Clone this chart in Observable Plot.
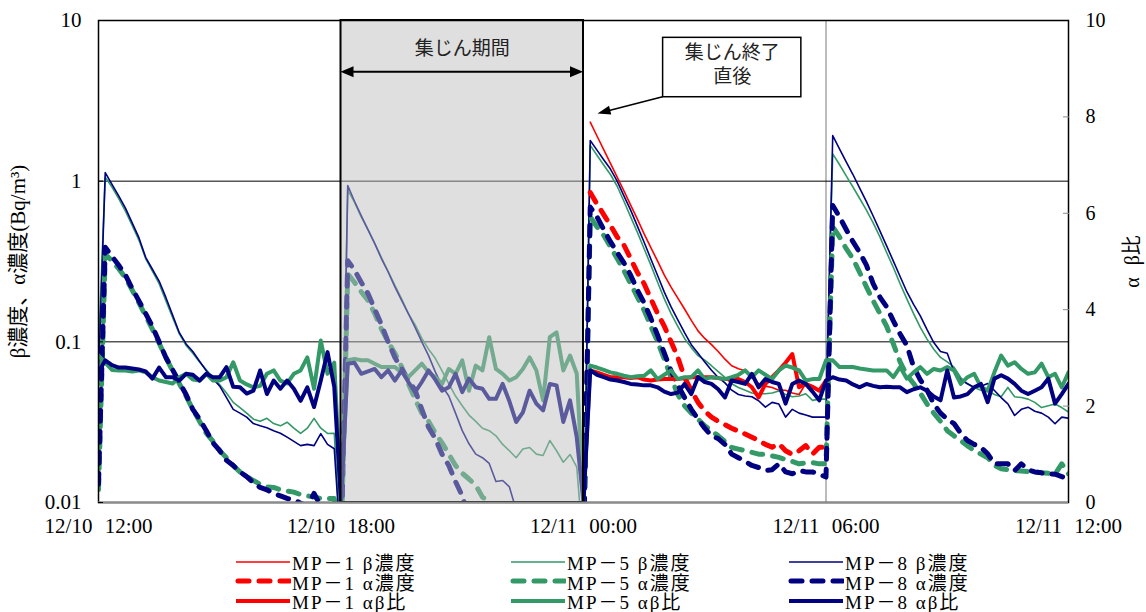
<!DOCTYPE html>
<html><head><meta charset="utf-8">
<script src="https://cdn.jsdelivr.net/npm/d3@7"></script>
<script src="https://cdn.jsdelivr.net/npm/@observablehq/plot@0.6"></script>
<style>
html,body{margin:0;padding:0;background:#fff;}
#chart{width:1146px;height:545px;}
#legend{width:1146px;height:67px;box-sizing:border-box;padding-top:7px;padding-left:235px;display:grid;grid-template-columns:275px 278px 300px;grid-auto-rows:19.5px;font-family:'Liberation Serif','Noto Sans CJK JP',serif;font-size:19px;color:#000;letter-spacing:2px;}
.item{display:flex;align-items:center;white-space:nowrap;}
.item svg{flex:none;margin-right:1px;}
</style></head><body>
<div id="chart"></div><div id="legend"></div>
<script>
// ---- axis / tick data ----
const tickHours = [0, 6, 12, 18, 24];                 // hours after 12/10 12:00
const timeLabels = ["12/10 12:00", "12/10 18:00", "12/11 00:00", "12/11 06:00", "12/11 12:00"];
const stepMinutes = 10;                                // sampling interval
const concTicks = [0.01, 0.1, 1, 10];
const concTickLabels = ["0.01", "0.1", "1", "10"];
const ratioTicks = [0, 2, 4, 6, 8, 10];
const collectPeriod = [6, 12];                         // 集じん期間 18:00–00:00
const mp1StartIndex = 73;                              // MP-1 measured only after 00:00

// ---- series values (10-min samples, 12/10 12:00 – 12/11 12:00) ----
const mp8Beta = [
0.06,1.13,0.955,0.81,0.68,0.55,0.445,0.336,0.283,0.239,0.189,0.147,0.114,0.097,0.087,0.0757,0.066,0.059,0.053,0.045,0.038,0.036,0.034,0.031,0.030,0.0292,0.028,0.027,0.0255,0.024,0.0226,0.023,0.0226,0.0268,0.023,0.0216,
0.005,0.94,0.75,0.61,0.5,0.41,0.33,0.272,0.22,0.181,0.15,0.123,0.1,0.082,0.065,0.053,0.046,0.036,0.028,0.0232,0.02,0.019,0.0175,0.0135,0.0137,0.0125,0.009,null,null,null,null,null,null,null,null,null,
0.005,1.79,1.56,1.36,1.19,1.0,0.81,0.66,0.525,0.417,0.328,0.259,0.204,0.165,0.137,0.114,0.096,0.085,0.075,0.0665,0.060,0.0555,0.050,0.047,0.046,0.0455,0.043,0.0392,0.042,0.041,0.034,0.038,0.036,0.035,0.034,0.034,
0.034,1.92,1.59,1.32,1.1,0.906,0.745,0.607,0.491,0.396,0.318,0.255,0.205,0.171,0.145,0.119,0.099,0.087,0.085,0.0652,0.058,0.0548,0.052,0.053,0.055,0.0498,0.045,0.0411,0.0348,0.038,0.0392,0.037,0.036,0.034,0.0309,0.034,0.0335];
const mp5Beta = [
0.09,1.06,0.92,0.78,0.65,0.53,0.43,0.33,0.275,0.23,0.18,0.142,0.112,0.095,0.085,0.075,0.067,0.06,0.054,0.048,0.042,0.039,0.036,0.033,0.032,0.0334,0.031,0.030,0.0316,0.029,0.0269,0.029,0.0334,0.029,0.0269,0.027,
0.005,0.88,0.74,0.6,0.5,0.41,0.335,0.275,0.225,0.185,0.15,0.128,0.105,0.09,0.079,0.066,0.055,0.046,0.04,0.035,0.032,0.029,0.028,0.026,0.023,0.021,0.019,0.0215,0.022,0.02,0.0196,0.0243,0.021,0.0178,0.0199,0.0166,
0.005,1.67,1.45,1.26,1.1,0.93,0.75,0.6,0.48,0.38,0.3,0.235,0.185,0.15,0.125,0.105,0.092,0.082,0.077,0.071,0.0652,0.06,0.0548,0.052,0.05,0.048,0.0475,0.0475,0.048,0.0495,0.047,0.0455,0.046,0.0475,0.0432,0.044,
0.044,1.48,1.27,1.08,0.92,0.78,0.66,0.55,0.45,0.36,0.29,0.23,0.185,0.15,0.123,0.104,0.09,0.08,0.075,0.0695,0.06,0.0548,0.052,0.05,0.0498,0.047,0.0455,0.052,0.0455,0.045,0.044,0.042,0.039,0.040,0.041,0.039,0.0365];
const mp8Alpha = [
0.013,0.388,0.34,0.30,0.26,0.215,0.18,0.15,0.125,0.1,0.08,0.067,0.056,0.047,0.038,0.033,0.028,0.0235,0.021,0.0183,0.017,0.0155,0.0145,0.0133,0.0124,0.012,0.0114,0.011,0.0106,0.0104,0.0099,0.0095,0.0114,0.0095,0.009,0.0085,
0.005,0.32,0.28,0.235,0.2,0.16,0.128,0.1,0.08,0.068,0.058,0.05,0.038,0.0294,0.025,0.02,0.017,0.0135,0.011,0.008,null,null,null,null,null,null,null,null,null,null,null,null,null,null,null,null,
0.005,0.69,0.6,0.5,0.42,0.36,0.31,0.26,0.21,0.175,0.14,0.11,0.085,0.066,0.054,0.045,0.038,0.033,0.029,0.026,0.025,0.023,0.02,0.019,0.018,0.017,0.0165,0.0158,0.016,0.0174,0.0155,0.0151,0.0158,0.0155,0.0155,0.015,
0.0144,0.706,0.6,0.5,0.42,0.36,0.3,0.23,0.19,0.165,0.135,0.112,0.095,0.07,0.058,0.05,0.041,0.036,0.033,0.031,0.027,0.0243,0.023,0.022,0.0201,0.0174,0.0174,0.0174,0.0158,0.0174,0.016,0.0155,0.0153,0.0151,0.015,0.0145,0.014];
const mp5Alpha = [
0.012,0.35,0.32,0.285,0.25,0.21,0.175,0.145,0.12,0.098,0.08,0.066,0.055,0.046,0.038,0.032,0.027,0.024,0.021,0.019,0.017,0.0155,0.0145,0.0137,0.013,0.0125,0.0124,0.012,0.0118,0.0116,0.0112,0.011,0.0108,0.0106,0.0106,0.0106,
0.005,0.265,0.235,0.205,0.181,0.15,0.12,0.1,0.085,0.07,0.055,0.044,0.036,0.032,0.027,0.0235,0.02,0.017,0.0152,0.014,0.0128,0.0108,0.0102,0.0085,null,null,null,null,null,null,null,null,null,null,null,null,
0.005,0.6,0.52,0.46,0.39,0.33,0.278,0.23,0.19,0.157,0.125,0.1,0.078,0.06,0.047,0.04,0.036,0.033,0.03,0.028,0.026,0.024,0.022,0.0215,0.021,0.0205,0.02,0.0199,0.0195,0.0191,0.0185,0.018,0.0174,0.0176,0.0177,0.0174,
0.0174,0.52,0.45,0.38,0.33,0.27,0.22,0.18,0.15,0.125,0.097,0.075,0.062,0.055,0.048,0.041,0.036,0.032,0.028,0.026,0.0243,0.0225,0.0211,0.02,0.019,0.017,0.0162,0.016,0.0158,0.0157,0.0156,0.0155,0.0153,0.0152,0.015,0.0174,0.0151];
const mp8Ratio = [
2.7,2.95,2.85,2.8,2.8,2.78,2.76,2.72,2.57,2.8,2.6,2.6,2.53,2.67,2.65,2.53,2.67,2.6,2.6,2.81,2.4,2.39,2.26,2.32,2.74,2.25,2.53,2.36,2.53,2.36,2.11,2.39,1.98,2.53,3.12,2.4,
0,2.88,2.9,2.67,2.72,2.77,2.6,2.74,2.53,2.74,2.5,2.29,2.5,2.74,2.55,2.32,2.39,2.67,2.29,2.57,2.39,2.36,2.15,2.15,2.46,2.1,1.67,1.87,2.32,2.05,1.91,2.46,2.43,1.67,2.12,1.35,
0,2.74,2.65,2.6,2.55,2.53,2.5,2.46,2.45,2.43,2.43,2.39,2.3,2.25,2.28,2.46,2.25,2.6,2.5,2.46,2.35,2.18,2.53,2.5,2.46,2.67,2.39,2.56,2.5,2.46,2.05,2.46,2.53,2.46,2.3,2.12,
2.53,2.6,2.55,2.53,2.45,2.39,2.46,2.42,2.39,2.4,2.39,2.39,2.29,2.35,2.39,2.32,2.2,2.12,2.74,2.18,2.2,2.25,2.39,2.46,2.08,2.57,2.64,2.57,2.46,2.32,2.25,2.32,2.39,2.57,2.05,2.25,2.46];
const mp5Ratio = [
3.05,2.9,2.75,2.74,2.74,2.72,2.74,2.7,2.6,2.53,2.5,2.47,2.6,2.67,2.55,2.53,2.67,2.53,2.53,2.6,2.91,2.53,2.45,2.39,2.42,2.67,2.74,2.53,2.47,2.67,2.74,3.01,2.36,3.36,2.67,2.9,
0,2.95,2.98,2.95,2.95,2.88,2.81,2.81,2.81,2.7,2.6,2.74,2.88,2.7,2.6,2.46,2.77,2.67,2.95,2.32,2.84,2.74,3.43,2.77,2.67,2.53,2.6,2.77,3.01,2.74,2.12,3.43,3.53,2.74,3.05,2.67,
0,2.84,2.8,2.75,2.7,2.67,2.63,2.6,2.62,2.63,2.74,2.56,2.65,2.74,2.56,2.6,2.6,2.74,2.56,2.6,2.58,2.56,2.6,2.65,2.74,2.6,2.74,2.65,2.56,2.74,2.84,2.8,2.74,2.53,2.56,2.56,
2.95,2.95,2.81,2.81,2.81,2.78,2.76,2.74,2.74,2.74,2.6,2.81,2.57,2.7,2.81,2.67,2.77,2.74,2.81,2.74,2.46,2.6,2.67,2.4,2.32,2.7,3.05,2.84,2.91,2.77,2.67,2.7,2.88,2.6,2.67,2.39,2.7];
// MP-1: 00:10 – 06:00 only
const mp1Beta = [2.33,1.91,1.57,1.29,1.06,0.87,0.71,0.58,0.47,0.386,0.318,0.26,0.219,0.187,0.16,0.136,0.117,0.105,0.096,0.087,0.078,0.071,0.068,0.066,0.06,0.055,0.053,0.052,0.05,0.05,0.048,0.047,0.055,0.053,0.05,0.052];
const mp1Alpha = [0.85,0.72,0.62,0.53,0.45,0.4,0.33,0.27,0.23,0.185,0.15,0.125,0.1,0.08,0.06,0.05,0.042,0.037,0.034,0.032,0.0305,0.029,0.0278,0.0267,0.0255,0.0243,0.023,0.0221,0.0232,0.021,0.0199,0.021,0.0226,0.02,0.0221,0.022];
const mp1Ratio = [2.74,2.7,2.65,2.6,2.6,2.6,2.58,2.6,2.55,2.53,2.55,2.56,2.56,2.56,2.58,2.6,2.6,2.6,2.6,2.58,2.56,2.56,2.56,2.5,2.39,2.18,2.46,2.6,2.74,2.9,3.08,2.39,2.46,2.4,2.32,2.53];

// ---- build ----
const colors = {mp1: "#ff0000", mp5: "#339966", mp8: "#000080"};
const kindStyle = {
  beta: {strokeWidth: 1.6},
  alpha: {strokeWidth: 5, strokeDasharray: "11,10", strokeLinecap: "round"},
  ratio: {strokeWidth: 4}
};
// right axis (αβ比, 0–10 linear) mapped onto the left log frame
const ratioToY = r => (r == null ? null : 0.01 * Math.pow(1000, r / 10));
const full = (arr, start) => Array.from({length: 145}, (_, i) => (i >= start && i - start < arr.length ? arr[i - start] : null));

const series = [
  {name: "MP－1 β濃度", values: full(mp1Beta, mp1StartIndex), color: colors.mp1, kind: "beta"},
  {name: "MP－5 β濃度", values: mp5Beta, color: colors.mp5, kind: "beta"},
  {name: "MP－8 β濃度", values: mp8Beta, color: colors.mp8, kind: "beta"},
  {name: "MP－1 α濃度", values: full(mp1Alpha, mp1StartIndex), color: colors.mp1, kind: "alpha"},
  {name: "MP－5 α濃度", values: mp5Alpha, color: colors.mp5, kind: "alpha"},
  {name: "MP－8 α濃度", values: mp8Alpha, color: colors.mp8, kind: "alpha"},
  {name: "MP－1 αβ比", values: full(mp1Ratio, mp1StartIndex), color: colors.mp1, kind: "ratio"},
  {name: "MP－5 αβ比", values: mp5Ratio, color: colors.mp5, kind: "ratio"},
  {name: "MP－8 αβ比", values: mp8Ratio, color: colors.mp8, kind: "ratio"}
];

const rowsOf = s => s.values.map((v, i) => ({t: i * stepMinutes / 60, v: s.kind === "ratio" ? ratioToY(v) : v}));

const lineMarks = series.map(s => Plot.line(rowsOf(s), {
  x: "t", y: "v", stroke: s.color, strokeLinejoin: "round", clip: true, ...kindStyle[s.kind]
}));

// annotation anchors (hours, concentration units)
const annot = {
  periodArrowY: 4.77, periodTextY: 6.67,
  box: {x1: 13.97, x2: 17.39, y1: 7.8, y2: 3.33},
  boxText: [{t: 15.68, v: 6.31, s: "集じん終了"}, {t: 15.68, v: 4.44, s: "直後"}],
  pointer: {x1: 13.97, y1: 3.33, x2: 12.36, y2: 2.62}
};

const jp = "'Noto Sans CJK JP', sans-serif";

const plot = Plot.plot({
  width: 1146, height: 545,
  marginLeft: 98, marginRight: 78, marginTop: 20, marginBottom: 43,
  x: {domain: [0, 24]},
  y: {type: "log", domain: [0.01, 10]},
  style: {fontFamily: "'Liberation Serif','Noto Sans CJK JP',serif", fontSize: "20px", background: "white", color: "black"},
  marks: [
    Plot.ruleX([tickHours[3]], {stroke: "#a6a6a6", strokeWidth: 1.5}),
    Plot.ruleY([0.1, 1], {stroke: "black", strokeWidth: 1}),
    ...lineMarks,
    Plot.rect([collectPeriod], {x1: d => d[0], x2: d => d[1], fill: "#bcbcbc", fillOpacity: 0.48, stroke: "black", strokeWidth: 2}),
    Plot.frame({stroke: "black", strokeWidth: 1.5}),
    Plot.ruleY([0.01], {stroke: "#8c8c8c", strokeWidth: 2}),
    Plot.text(["集じん期間"], {x: (collectPeriod[0] + collectPeriod[1]) / 2, y: annot.periodTextY, text: d => d, fontFamily: jp, fontSize: 19, fill: "#222"}),
    Plot.rect([annot.box], {x1: "x1", x2: "x2", y1: "y1", y2: "y2", fill: "white", stroke: "black", strokeWidth: 1.5}),
    Plot.text(annot.boxText, {x: "t", y: "v", text: "s", fontFamily: jp, fontSize: 19, fill: "#222"}),
    Plot.axisX({ticks: tickHours, tickFormat: h => timeLabels[tickHours.indexOf(h)], tickSize: 0, tickPadding: 16, fontSize: 21, label: null}),
    Plot.axisY({anchor: "left", ticks: concTicks, tickFormat: v => concTickLabels[concTicks.indexOf(v)], tickSize: 0, tickPadding: 17,
      label: "β濃度、α濃度(Bq/m³)", labelAnchor: "center", labelOffset: 88, labelArrow: "none", fontSize: 21}),
    Plot.axisY({anchor: "left", ticks: concTicks, tickFormat: () => "", tickSize: -5, label: null}),
    // right axis: ticks + label from the axis mark, tick labels as text through the y scale
    Plot.axisY({anchor: "right", ticks: ratioTicks.slice(1, -1).map(ratioToY), tickFormat: () => "", tickSize: -6, stroke: "#8c8c8c",
      label: "α β比", labelAnchor: "center", labelOffset: 70, labelArrow: "none"}),
    Plot.text(ratioTicks, {y: r => ratioToY(r), text: r => String(r), frameAnchor: "right", dx: 17, textAnchor: "start"})
  ]
});

// arrows drawn through the plot's own scales
const sx = plot.scale("x"), sy = plot.scale("y");
const svg = d3.select(plot);
svg.style("word-spacing", "7px");
const g = svg.append("g").attr("aria-label", "annotation-arrows");
function arrow(x0, y0, x1, y1, {len = 13, half = 5, width = 2, both = false} = {}) {
  const px0 = sx.apply(x0), py0 = sy.apply(y0), px1 = sx.apply(x1), py1 = sy.apply(y1);
  const head = (ax, ay, bx, by) => {
    const dx = bx - ax, dy = by - ay, d = Math.hypot(dx, dy), ux = dx / d, uy = dy / d;
    const baseX = bx - ux * len, baseY = by - uy * len;
    g.append("path").attr("d", `M${bx},${by}L${baseX - uy * half},${baseY + ux * half}L${baseX + uy * half},${baseY - ux * half}Z`).attr("fill", "black");
    return [baseX + ux * 2, baseY + uy * 2];
  };
  let [ex, ey] = head(px0, py0, px1, py1);
  let sxp = px0, syp = py0;
  if (both) [sxp, syp] = head(px1, py1, px0, py0);
  g.append("line").attr("x1", sxp).attr("y1", syp).attr("x2", ex).attr("y2", ey).attr("stroke", "black").attr("stroke-width", width);
}
arrow(collectPeriod[0], annot.periodArrowY, collectPeriod[1], annot.periodArrowY, {len: 13, half: 5.5, width: 2, both: true});
arrow(annot.pointer.x1, annot.pointer.y1, annot.pointer.x2, annot.pointer.y2, {len: 13, half: 4.5, width: 1.6});
document.getElementById("chart").appendChild(plot);

// ---- legend ----
const legend = d3.select("#legend");
for (const s of series) {
  const st = kindStyle[s.kind];
  const item = legend.append("div").attr("class", "item");
  const sw = item.append("svg").attr("width", 56).attr("height", 14);
  sw.append("line").attr("x1", s.kind === "alpha" ? 3 : 1).attr("x2", 55).attr("y1", 7).attr("y2", 7)
    .attr("stroke", s.color).attr("stroke-width", st.strokeWidth)
    .attr("stroke-dasharray", st.strokeDasharray || null).attr("stroke-linecap", st.strokeLinecap || null);
  item.append("span").text(s.name);
}
</script>
</body></html>
